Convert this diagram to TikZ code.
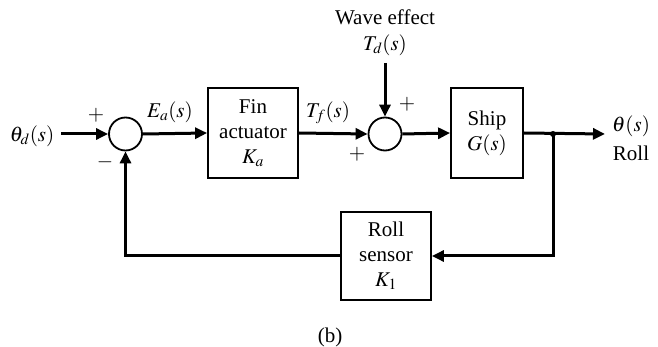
\documentclass[tikz,border=0pt]{standalone}
\usepackage{mathptmx}
\usepackage[no-math]{fontspec}
\setmainfont{Liberation Serif}
\usetikzlibrary{arrows.meta}
\tikzset{
  txt/.style={font=\fontsize{21}{25}\selectfont, inner sep=0pt},
  blockbox/.style={draw, line width=1.8pt, inner sep=0pt, align=center, font=\fontsize{21}{25}\selectfont},
  sumnode/.style={draw, circle, line width=1.8pt, minimum size=33pt, inner sep=0pt},
  sig/.style={line width=3pt, -{Triangle[length=12pt,width=11pt]}},
}
\begin{document}
\begin{tikzpicture}[x=1pt,y=-1pt]
\useasboundingbox (0,0) rectangle (658,347);
% nodes
\node[txt] (thd) at (32,136) {$\theta_d(s)$};
\coordinate (thdR) at (61,134);
\node[sumnode] (s1) at (125.5,134) {};
\node[txt] at (96,115) {$+$};
\node[txt] at (105,162) {$-$};
\node[blockbox, minimum width=90pt, minimum height=90pt] (fin) at (253,133) {Fin\\actuator\\$K_a$};
\node[txt] at (170,112) {$E_a(s)$};
\node[txt] at (328,113) {$T_f(s)$};
\node[sumnode] (s2) at (385,134) {};
\node[txt] at (385,17) {Wave effect};
\node[txt] (td) at (385,45) {$T_d(s)$};
\coordinate (tdB) at (385,63);
\node[txt] at (407,104) {$+$};
\node[txt] at (357,154) {$+$};
\node[blockbox, minimum width=72pt, minimum height=90pt] (ship) at (487,133) {Ship\\$G(s)$};
\coordinate (junc) at (553,134);
\coordinate (outR) at (605,134);
\node[txt] at (631,126) {$\theta(s)$};
\node[txt] at (631,153) {Roll};
\node[blockbox, minimum width=90pt, minimum height=88pt] (sens) at (386,256) {Roll\\sensor\\$K_1$};
\coordinate (cR) at (553,256);
\coordinate (cL) at (125.5,256);
\node[txt] at (330,337) {(b)};
% connectors
\draw[sig] (thdR) -- (s1.west);
\draw[sig] (s1.east) -- (fin.west);
\draw[sig] (fin.east) -- (s2.west);
\draw[sig] (tdB) -- (s2.north);
\draw[sig] (s2.east) -- (ship.west);
\draw[sig] (ship.east) -- (outR);
\fill (junc) circle (3pt);
\draw[sig] (junc) -- (cR) -- (sens.east);
\draw[sig] (sens.west) -- (cL) -- (s1.south);
\end{tikzpicture}
\end{document}
